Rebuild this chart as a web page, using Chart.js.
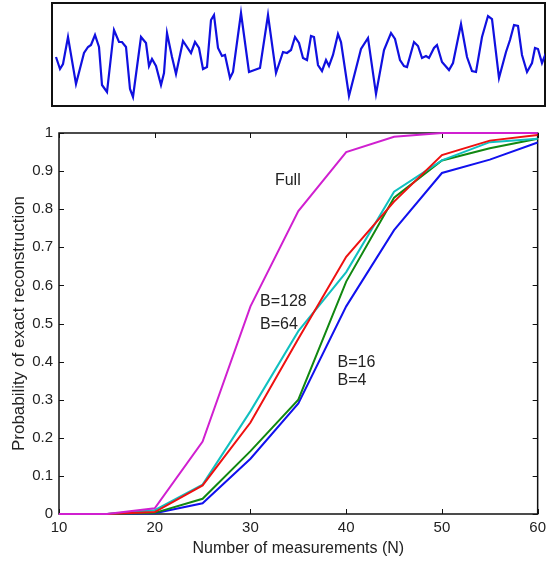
<!DOCTYPE html>
<html>
<head>
<meta charset="utf-8">
<script src="https://cdn.jsdelivr.net/npm/chart.js@4/dist/chart.umd.min.js"></script>
<style>
  body { margin: 0; background: #fff; }
  #wrap { position: relative; width: 551px; height: 562px; }
  #sinal { position: absolute; left: 0; top: 0; }
  #grafico { position: absolute; left: 0; top: 110px; }
</style>
</head>
<body>
<div id="wrap">
  <canvas id="sinal" width="551" height="110"></canvas>
  <canvas id="grafico" width="551" height="452"></canvas>
</div>
<script>
// Sinal de exemplo (painel de cima)
const sinalT = [4, 8, 11, 16, 24, 32, 36, 39, 43, 47, 50, 55, 62, 67, 70, 74, 78, 81, 89, 94,
  97, 100, 104, 109, 112, 115, 120, 124, 131, 139, 143, 147, 151, 155, 159, 162, 166, 170, 173, 178,
  181, 189, 197, 208, 216, 224, 231, 235, 239, 243, 247, 251, 255, 259, 262, 266, 270, 274, 277, 281,
  286, 289, 297, 309, 316, 324, 332, 339, 343, 348, 352, 355, 362, 366, 370, 374, 377, 382, 385, 390,
  397, 401, 409, 415, 420, 424, 430, 436, 440, 447, 454, 458, 462, 466, 470, 475, 480, 483, 486, 490, 494];
const sinalA = [-2, -14, -9, 18, -29, 2, 8, 10, 20, 8, -30, -37, 25, 13, 13, 8, -34, -42, 18, 12,
  -11, -4, -11, -30, -18, 22, -2, -19, 14, 2, 13, 7, -14, -12, 35, 40, 7, -1, 0, -23,
  -17, 42, -17, -13, 40, -18, 3, 2, 5, 18, 12, -3, -5, 19, 18, -10, -16, -5, -11, 0,
  21, 13, -41, 6, 17, -39, 5, 22, 16, -5, -11, -12, 13, 9, -3, -1, -3, 7, 10, -7,
  -15, -8, 31, -2, -16, -17, 18, 39, 36, -23, 3, 15, 30, 29, 0, -17, -8, 7, 6, -8, 2];

// Curvas de probabilidade
const medidas = [10, 15, 20, 25, 30, 35, 40, 45, 50, 55, 60];
const full = [0, 0, 0.015, 0.19, 0.545, 0.795, 0.95, 0.99, 1, 1, 1];
const b128 = [0, 0, 0.005, 0.075, 0.24, 0.46, 0.675, 0.82, 0.942, 0.98, 0.995];
const b64 = [0, 0, 0.01, 0.077, 0.27, 0.48, 0.635, 0.846, 0.928, 0.976, 0.985];
const b16 = [0, 0, 0.003, 0.04, 0.165, 0.30, 0.61, 0.83, 0.928, 0.96, 0.985];
const b4 = [0, 0, 0.002, 0.028, 0.145, 0.29, 0.545, 0.745, 0.895, 0.93, 0.975];

const xTicks = [10, 20, 30, 40, 50, 60];
const yTicks = [0, 0.1, 0.2, 0.3, 0.4, 0.5, 0.6, 0.7, 0.8, 0.9, 1];

// Rótulos dentro do gráfico: texto, x, y (em unidades dos eixos)
const notas = [
  ['Full', 33.9, 0.875, 'center'],
  ['B=128', 31.0, 0.557, 'left'],
  ['B=64', 31.0, 0.497, 'left'],
  ['B=16', 39.1, 0.397, 'left'],
  ['B=4', 39.1, 0.349, 'left']
];

const corTexto = '#222';
const fonte = 'Liberation Sans, Arial, sans-serif';

function pares(xs, ys) {
  return xs.map((x, i) => ({ x: x, y: ys[i] }));
}

// Caixa em volta da área do gráfico (desenhada antes das linhas)
const caixa = {
  id: 'caixa',
  beforeDatasetsDraw(chart, args, opts) {
    const a = chart.chartArea;
    const ctx = chart.ctx;
    ctx.save();
    ctx.strokeStyle = '#111';
    ctx.lineWidth = opts.largura || 1.5;
    ctx.strokeRect(a.left, a.top, a.right - a.left, a.bottom - a.top);
    ctx.restore();
  }
};

// Marcas dos ticks para dentro, nos quatro lados, e os rótulos
const ticksDentro = {
  id: 'ticksDentro',
  beforeDatasetsDraw(chart) {
    const a = chart.chartArea;
    const ctx = chart.ctx;
    const sx = chart.scales.x, sy = chart.scales.y;
    const t = 5;
    ctx.save();
    ctx.strokeStyle = '#111';
    ctx.lineWidth = 1;
    ctx.beginPath();
    xTicks.forEach(v => {
      const px = Math.round(sx.getPixelForValue(v)) + 0.5;
      ctx.moveTo(px, a.bottom); ctx.lineTo(px, a.bottom - t);
      ctx.moveTo(px, a.top); ctx.lineTo(px, a.top + t);
    });
    yTicks.forEach(v => {
      const py = Math.round(sy.getPixelForValue(v)) + 0.5;
      ctx.moveTo(a.left, py); ctx.lineTo(a.left + t, py);
      ctx.moveTo(a.right, py); ctx.lineTo(a.right - t, py);
    });
    ctx.stroke();

    ctx.fillStyle = corTexto;
    ctx.font = '16px ' + fonte;
    ctx.textBaseline = 'middle';
    notas.forEach(n => {
      ctx.textAlign = n[3];
      ctx.fillText(n[0], sx.getPixelForValue(n[1]), sy.getPixelForValue(n[2]));
    });
    ctx.restore();
  }
};

function renderSinal() {
  const ctx = document.getElementById('sinal').getContext('2d');
  new Chart(ctx, {
    type: 'line',
    data: {
      datasets: [{
        data: pares(sinalT, sinalA),
        borderColor: '#1010e0',
        borderWidth: 2.2,
        pointRadius: 0,
        tension: 0
      }]
    },
    options: {
      responsive: false,
      animation: false,
      layout: { padding: { left: 52, right: 6, top: 3, bottom: 4 } },
      plugins: { legend: { display: false }, tooltip: { enabled: false }, caixa: { largura: 2 } },
      scales: {
        x: { type: 'linear', min: 0, max: 493, display: false },
        y: { min: -51, max: 52, display: false }
      }
    },
    plugins: [caixa]
  });
}

function renderGrafico() {
  const ctx = document.getElementById('grafico').getContext('2d');
  const series = [
    [full, '#d020d0'],
    [b128, '#ee1111'],
    [b64, '#11c0c0'],
    [b16, '#118811'],
    [b4, '#1111ee']
  ];
  new Chart(ctx, {
    type: 'line',
    data: {
      datasets: series.map(s => ({
        data: pares(medidas, s[0]),
        borderColor: s[1],
        borderWidth: 2,
        pointRadius: 0,
        tension: 0,
        clip: 3
      }))
    },
    options: {
      responsive: false,
      animation: false,
      layout: { padding: { left: 0, right: 9, top: 23, bottom: 0 } },
      plugins: { legend: { display: false }, tooltip: { enabled: false }, caixa: { largura: 1.5 } },
      scales: {
        x: {
          type: 'linear', min: 10, max: 60,
          afterBuildTicks: s => { s.ticks = xTicks.map(v => ({ value: v })); },
          afterFit: s => { s.height = 48; },
          grid: { display: false, drawTicks: false },
          border: { display: false },
          ticks: { color: corTexto, font: { size: 15, family: fonte }, padding: 5 },
          title: { display: true, text: 'Number of measurements (N)', color: corTexto,
                   font: { size: 16, family: fonte }, padding: { top: 0, bottom: 4 } }
        },
        y: {
          min: 0, max: 1,
          afterBuildTicks: s => { s.ticks = yTicks.map(v => ({ value: v })); },
          afterFit: s => { s.width = 59; },
          grid: { display: false, drawTicks: false },
          border: { display: false },
          ticks: { color: corTexto, font: { size: 15, family: fonte }, padding: 6,
                   callback: v => String(Math.round(v * 10) / 10) },
          title: { display: true, text: 'Probability of exact reconstruction', color: corTexto,
                   font: { size: 17, family: fonte }, padding: { top: 9, bottom: 0 } }
        }
      }
    },
    plugins: [caixa, ticksDentro]
  });
}

renderSinal();
renderGrafico();
</script>
</body>
</html>
